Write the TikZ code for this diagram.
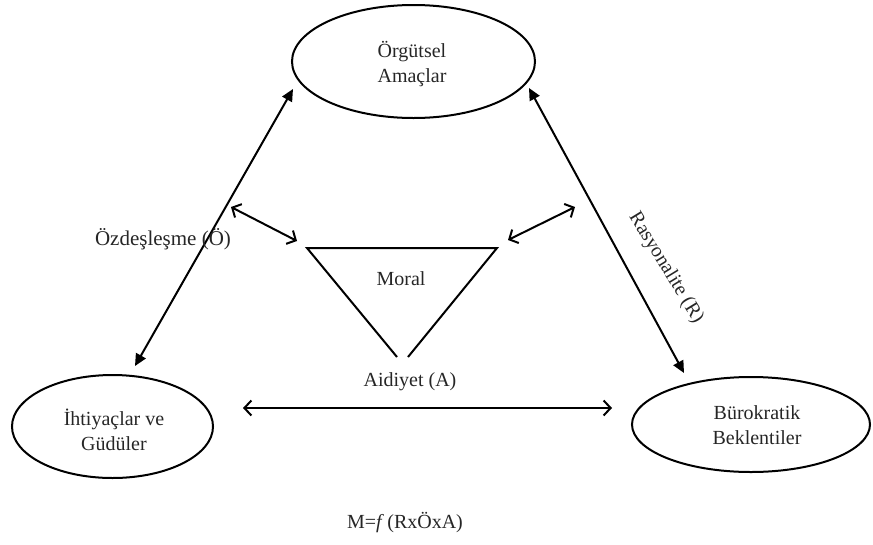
\documentclass[tikz,border=0pt]{standalone}
\usepackage{fontspec}
\setmainfont{Liberation Serif}
\usetikzlibrary{shapes.geometric,arrows.meta}
\begin{document}
\begin{tikzpicture}[x=1pt,y=-1pt,
  lbl/.style={font=\fontsize{20}{25}\selectfont, text=black!85, align=center},
  oval/.style={draw, ellipse, line width=2pt, inner sep=0pt},
  bigarrow/.style={line width=2pt, {Triangle[length=12pt,width=11pt]}-{Triangle[length=12pt,width=11pt]}},
  smallarrow/.style={line width=2pt, {Straight Barb[length=7pt,width=15pt]}-{Straight Barb[length=7pt,width=15pt]}}
]
\useasboundingbox (0,0) rectangle (873,544);
% ellipses
\node[oval, minimum width=243pt, minimum height=113pt] (goals) at (413.5,61.5) {};
\node[lbl] (goalsT) at (412,64) {Örgütsel\\Amaçlar};
\node[oval, minimum width=201pt, minimum height=103pt] (needs) at (112.5,426.5) {};
\node[lbl] (needsT) at (114,430) {İhtiyaçlar ve\\Güdüler};
\node[oval, minimum width=238pt, minimum height=95pt] (bureau) at (751,424.5) {};
\node[lbl] (bureauT) at (757,425) {Bürokratik\\Beklentiler};
% arrow end points
\coordinate (l1) at (135,366);
\coordinate (l2) at (293,89);
\coordinate (r1) at (529,88);
\coordinate (r2) at (684,373);
\coordinate (h1) at (243,408);
\coordinate (h2) at (612,408);
\coordinate (sl1) at (231,207);
\coordinate (sl2) at (297,241);
\coordinate (sr1) at (575,207);
\coordinate (sr2) at (508,240);
\draw[bigarrow] (l1) -- (l2);
\draw[bigarrow] (r1) -- (r2);
\draw[smallarrow] (h1) -- (h2);
\draw[smallarrow] (sl1) -- (sl2);
\draw[smallarrow] (sr1) -- (sr2);
% triangle (open at bottom)
\coordinate (tl) at (307,248);
\coordinate (tr) at (497,248);
\coordinate (bl) at (397,357);
\coordinate (br) at (408,357);
\draw[line width=2pt] (bl) -- (tl) -- (tr) -- (br);
\node[lbl] (moral) at (401,279) {Moral};
% labels
\node[lbl] (aid) at (410,382) {Aidiyet (A)};
\node[lbl, font=\fontsize{21}{25}\selectfont] (ozd) at (163,239) {Özdeşleşme (Ö)};
\node[lbl, rotate=-58.5] (ras) at (666,268) {Rasyonalite (R)};
\node[lbl] (formula) at (405,523) {M=\textit{f}\,(RxÖxA)};
\end{tikzpicture}
\end{document}
